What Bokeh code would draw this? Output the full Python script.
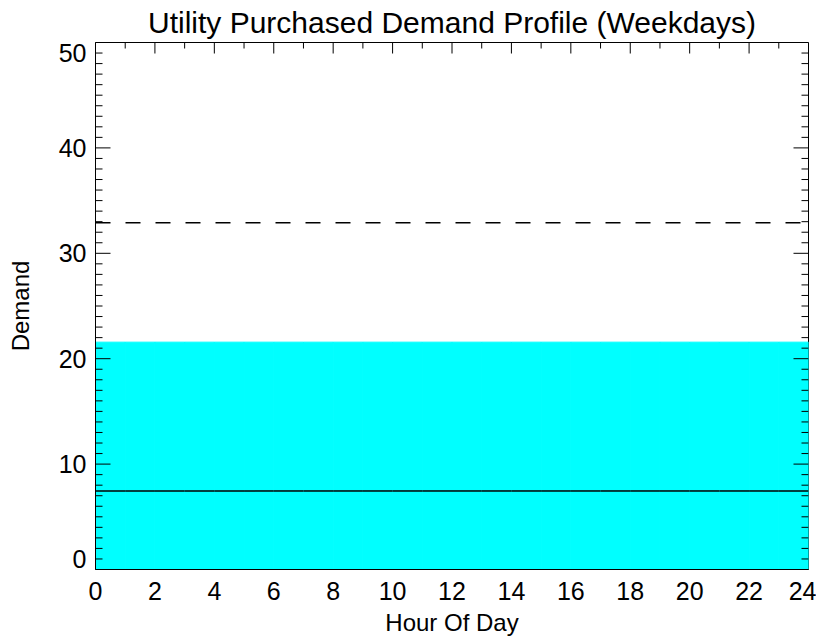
import math
from bokeh.plotting import figure
from bokeh.models import Range1d, FixedTicker, Span
from bokeh.embed import file_html
from bokeh.resources import INLINE

# ---- data ----
hours = list(range(24))
purchased_demand = [21.57] * 24      # cyan area (hourly)
base_demand = [7.45] * 24            # solid black line (hourly)
demand_limit = 32.9                  # dashed line
x_tick_values = list(range(0, 25, 2))
x_minor_values = list(range(0, 25))
y_tick_values = [0, 10, 20, 30, 40, 50]
y_minor_values = list(range(0, 51))
y_tick_labels = ["0", "10", "20", "30", "40", "50"]
title_text = "Utility Purchased Demand Profile (Weekdays)"
x_label = "Hour Of Day"
y_label = "Demand"

FONT = "Liberation Sans"
X0, X1, Y0, Y1 = 0, 24, 0, 50

p = figure(frame_width=713, frame_height=527, output_backend="svg", toolbar_location=None,
           x_range=Range1d(X0, X1), y_range=Range1d(Y0, Y1),
           min_border_left=95, min_border_right=8, min_border_top=41, min_border_bottom=60)
p.background_fill_color = "white"
p.border_fill_color = "white"
p.outline_line_color = "black"
p.outline_line_width = 1
p.xgrid.visible = False
p.ygrid.visible = False

# title
p.title.text = title_text
p.title.align = "center"
p.title.text_font = FONT
p.title.text_font_size = "30px"
p.title.text_font_style = "normal"
p.title.text_color = "black"
p.title.standoff = 7
p.title.offset = 0

# cyan hourly area
p.quad(left=hours, right=[h + 1 for h in hours], bottom=[0] * 24, top=purchased_demand,
       fill_color="#00FFFF", line_color="#00FFFF", line_width=1)
# solid line
p.segment(x0=hours, x1=[h + 1 for h in hours], y0=base_demand, y1=base_demand,
          line_color="black", line_width=1.5)
# dashed limit
p.add_layout(Span(location=demand_limit, dimension="width", line_color="black",
                  line_width=1.5, line_dash="15 15"))

# inward tick marks on left, right and top edges (IDL box style)
y_major = [v for v in y_minor_values if v in y_tick_values]
y_minor = [v for v in y_minor_values if v not in y_tick_values]
x_major = [v for v in x_minor_values if v in x_tick_values]
x_minor = [v for v in x_minor_values if v not in x_tick_values]
p.ray(x=[X0] * len(y_major), y=y_major, length=15, length_units="screen", angle=0,
      line_color="black", line_width=1)
p.ray(x=[X0] * len(y_minor), y=y_minor, length=7, length_units="screen", angle=0,
      line_color="black", line_width=1)
p.ray(x=[X1] * len(y_major), y=y_major, length=15, length_units="screen", angle=math.pi,
      line_color="black", line_width=1)
p.ray(x=[X1] * len(y_minor), y=y_minor, length=7, length_units="screen", angle=math.pi,
      line_color="black", line_width=1)
p.ray(x=x_major, y=[Y1] * len(x_major), length=11, length_units="screen", angle=-math.pi / 2,
      line_color="black", line_width=1)
p.ray(x=x_minor, y=[Y1] * len(x_minor), length=6, length_units="screen", angle=-math.pi / 2,
      line_color="black", line_width=1)

# bottom axis
xa = p.xaxis[0]
xa.ticker = FixedTicker(ticks=x_tick_values, minor_ticks=[])
xa.major_tick_in = 0
xa.major_tick_out = 0
xa.minor_tick_in = 0
xa.minor_tick_out = 0
xa.axis_line_color = "black"
xa.major_label_text_font = FONT
xa.major_label_text_font_size = "25px"
xa.major_label_text_color = "black"
xa.major_label_standoff = 12
xa.axis_label = x_label
xa.axis_label_text_font = FONT
xa.axis_label_text_font_size = "24px"
xa.axis_label_text_font_style = "normal"
xa.axis_label_text_color = "black"
xa.axis_label_standoff = 6

# left axis: labels (IDL style: end labels pulled inside the range)
label_pos = [v + (1 if v == Y0 else (-1 if v == Y1 else 0)) for v in y_tick_values]
ya = p.yaxis[0]
ya.ticker = FixedTicker(ticks=label_pos, minor_ticks=[])
ya.major_label_overrides = {pos: t for pos, t in zip(label_pos, y_tick_labels)}
ya.major_tick_in = 0
ya.major_tick_out = 0
ya.minor_tick_in = 0
ya.minor_tick_out = 0
ya.axis_line_color = "black"
ya.major_label_standoff = 9
ya.major_label_text_font = FONT
ya.major_label_text_font_size = "25px"
ya.major_label_text_color = "black"
ya.axis_label = y_label
ya.axis_label_text_font = FONT
ya.axis_label_text_font_size = "24px"
ya.axis_label_text_font_style = "normal"
ya.axis_label_text_color = "black"
ya.axis_label_standoff = 22

open("out.html", "w").write(file_html(p, INLINE))
